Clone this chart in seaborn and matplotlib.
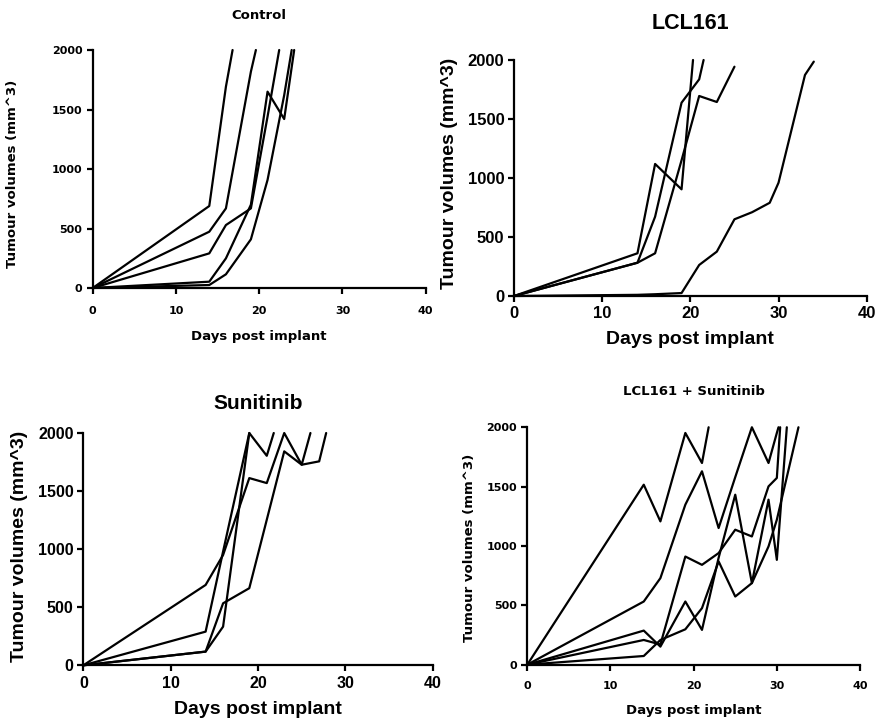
import matplotlib
matplotlib.use("Agg")
import matplotlib.pyplot as plt
import seaborn as sns
import pandas as pd

# ---------------- data ----------------
XTICKS = [0, 10, 20, 30, 40]
YTICKS = [0, 500, 1000, 1500, 2000]

TITLES = ["Control", "LCL161", "Sunitinib", "LCL161 + Sunitinib"]
XLABEL = "Days post implant"
YLABEL = "Tumour volumes (mm^3)"

CONTROL_DAYS = [
    [0, 14, 16, 16.8],
    [0, 14, 16, 19, 19.6],
    [0, 14, 16, 19, 21, 22.4],
    [0, 14, 16, 19, 21, 23, 24.2],
    [0, 14, 16, 19, 21, 23, 23.9],
]
CONTROL_VOLS = [
    [0, 689, 1692, 2000],
    [0, 473, 669, 1818, 2000],
    [0, 291, 529, 669, 1440, 2000],
    [0, 53, 249, 700, 1650, 1420, 2000],
    [0, 25, 115, 409, 908, 1620, 2000],
]

LCL_DAYS = [
    [0, 14, 16, 19, 20.3],
    [0, 14, 16, 19, 21, 21.5],
    [0, 14, 16, 19, 21, 23, 25],
    [0, 14, 16, 19, 21, 23, 25, 27, 29, 30, 33, 34],
]
LCL_VOLS = [
    [0, 362, 1119, 904, 2000],
    [0, 282, 672, 1638, 1836, 2000],
    [0, 282, 362, 1150, 1695, 1644, 1943],
    [0, 10, 15, 25, 263, 376, 650, 710, 790, 960, 1873, 1986],
]

SUN_DAYS = [
    [0, 14, 16, 19, 21, 23, 25, 26],
    [0, 14, 16, 19],
    [0, 14, 16, 19, 21, 21.8],
    [0, 14, 16, 19, 21, 23, 25, 27, 27.8],
]
SUN_VOLS = [
    [0, 692, 950, 1612, 1569, 2000, 1727, 2000],
    [0, 290, 980, 2000],
    [0, 118, 333, 2000, 1804, 2000],
    [0, 118, 534, 664, 1253, 1842, 1727, 1756, 2000],
]

COMBO_DAYS = [
    [0, 14, 16, 19, 21, 21.8],
    [0, 14, 16, 19, 21, 23, 25, 27, 29, 30, 30.2],
    [0, 14, 16, 19, 21, 23, 25, 27, 29, 30, 30.4],
    [0, 14, 16, 19, 21, 23, 25, 27, 29, 30, 31.2],
    [0, 14, 16, 19, 21, 23, 25, 27, 29, 30, 32.6],
]
COMBO_VOLS = [
    [0, 1516, 1207, 1952, 1699, 2000],
    [0, 532, 729, 1348, 1629, 1151, 1580, 2000, 1699, 1952, 2000],
    [0, 208, 170, 911, 841, 940, 1137, 1080, 1502, 1573, 2000],
    [0, 287, 152, 532, 293, 900, 1432, 687, 1390, 883, 2000],
    [0, 73, 208, 298, 476, 870, 574, 687, 996, 1221, 2000],
]

# ---------------- style ----------------
sns.set_theme(style="ticks")
plt.rcParams.update({
    "font.family": ["Liberation Sans", "DejaVu Sans"],
    "text.color": "black",
    "axes.labelcolor": "black",
    "axes.edgecolor": "black",
    "xtick.color": "black",
    "ytick.color": "black",
})

fig = plt.figure(figsize=(8.79, 7.28), dpi=100)

panels = [
    dict(days=CONTROL_DAYS, vols=CONTROL_VOLS, title=TITLES[0],
         rect=[0.1055, 0.6044, 0.3788, 0.3269], fam="DejaVu Sans",
         tick_fs=8, lab_fs=9.5, title_fs=9.5, xpad=8.5, ypad=3,
         title_y=1.143, xlab_y=-0.202, ylab_x=-0.242, ylab_y=0.48),
    dict(days=LCL_DAYS, vols=LCL_VOLS, title=TITLES[1],
         rect=[0.5848, 0.5934, 0.4012, 0.3242], fam="Liberation Sans",
         tick_fs=12, lab_fs=14, title_fs=15.5, xpad=3, ypad=2.5,
         title_y=1.153, xlab_y=-0.186, ylab_x=-0.184, ylab_y=0.52),
    dict(days=SUN_DAYS, vols=SUN_VOLS, title=TITLES[2],
         rect=[0.0948, 0.0861, 0.3975, 0.3191], fam="Liberation Sans",
         tick_fs=11.5, lab_fs=14, title_fs=15, xpad=3.5, ypad=2.5,
         title_y=1.125, xlab_y=-0.192, ylab_x=-0.184, ylab_y=0.51),
    dict(days=COMBO_DAYS, vols=COMBO_VOLS, title=TITLES[3],
         rect=[0.5999, 0.0870, 0.3785, 0.3261], fam="DejaVu Sans",
         tick_fs=8, lab_fs=9.5, title_fs=9.5, xpad=7.5, ypad=3,
         title_y=1.149, xlab_y=-0.195, ylab_x=-0.175, ylab_y=0.49),
]

for p in panels:
    ax = fig.add_axes(p["rect"])
    rows = []
    for m, (dd, vv) in enumerate(zip(p["days"], p["vols"])):
        for d, v in zip(dd, vv):
            rows.append({"mouse": m, "day": d, "volume": v})
    df = pd.DataFrame(rows)
    sns.lineplot(data=df, x="day", y="volume", units="mouse", estimator=None,
                 sort=False, color="black", linewidth=1.6, ax=ax,
                 legend=False, clip_on=False)
    ax.set_xlim(0, 40)
    ax.set_ylim(0, 2000)
    ax.set_xticks(XTICKS)
    ax.set_yticks(YTICKS)
    sns.despine(ax=ax)
    for s in ("left", "bottom"):
        ax.spines[s].set_linewidth(1.6)
    ax.tick_params(direction="out", length=4.5, width=1.6,
                   labelsize=p["tick_fs"])
    ax.tick_params(axis="x", pad=p["xpad"])
    ax.tick_params(axis="y", pad=p["ypad"])
    for lab in ax.get_xticklabels() + ax.get_yticklabels():
        lab.set_fontweight("bold")
        lab.set_family(p["fam"])
    ax.set_xlabel(XLABEL, fontsize=p["lab_fs"], fontweight="bold",
                  family=p["fam"])
    ax.set_ylabel(YLABEL, fontsize=p["lab_fs"], fontweight="bold",
                  family=p["fam"])
    ax.xaxis.set_label_coords(0.5, p["xlab_y"])
    ax.xaxis.label.set_verticalalignment("center")
    ax.yaxis.set_label_coords(p["ylab_x"], p["ylab_y"])
    ax.yaxis.label.set_verticalalignment("center")
    ax.set_title(p["title"], fontsize=p["title_fs"], fontweight="bold",
                 family=p["fam"], y=p["title_y"], va="center", pad=0)

fig.savefig("out.png", dpi=100)
